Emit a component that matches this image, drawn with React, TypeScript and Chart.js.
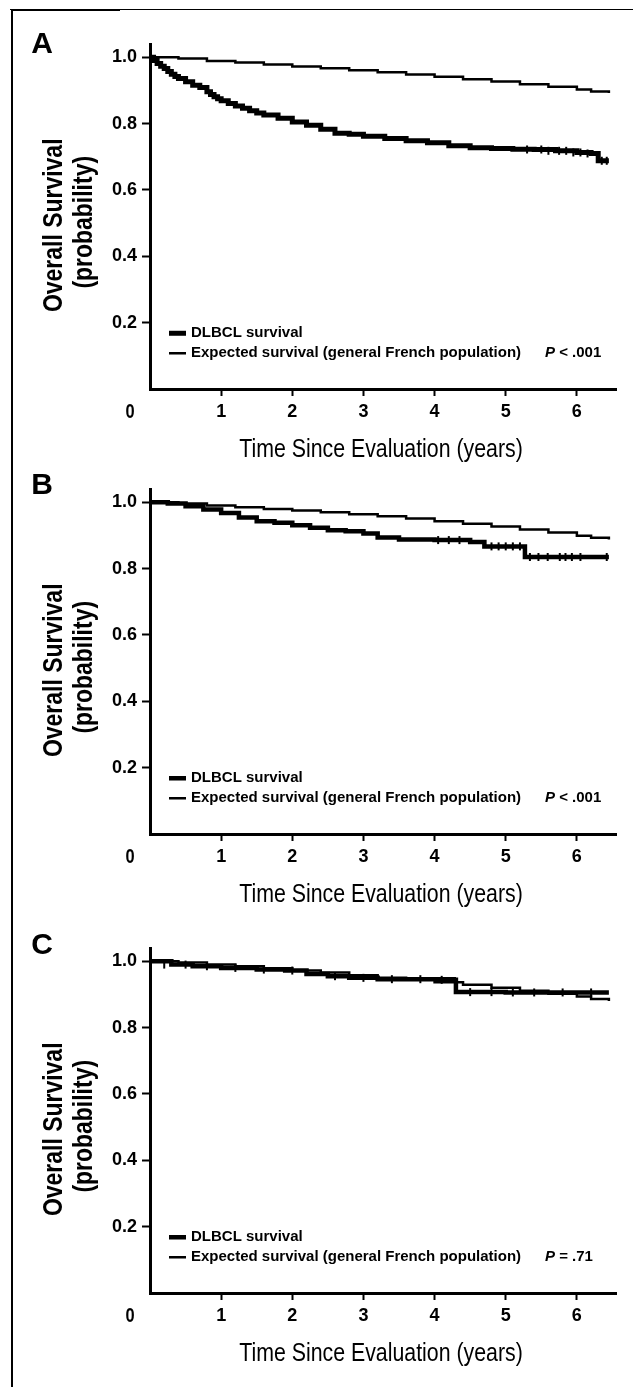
import React, { useEffect, useRef } from 'react';
import { Chart, registerables } from 'chart.js';

Chart.register(...registerables);

const SANS = "'Liberation Sans', Arial, Helvetica, sans-serif";
const SQUEEZE = 0.82; // horizontal compression to mimic a condensed face

// ---------- shared axis data ----------
const xTickValues = [0, 1, 2, 3, 4, 5, 6];
const yTickValues = [0.2, 0.4, 0.6, 0.8, 1.0];
const xMax = 6.55;
const yMax = 1.04;

const legendLabels = ['DLBCL survival', 'Expected survival (general French population)'];
const yTitle = ['Overall Survival', '(probability)'];
const xTitle = 'Time Since Evaluation (years)';

// ---------- panel A ----------
const expA_t = [0, 0.4, 0.8, 1.2, 1.6, 2.0, 2.4, 2.8, 3.2, 3.6, 4.0, 4.4, 4.8, 5.2, 5.6, 6.0, 6.2, 6.45];
const expA_v = [1.0, 0.996, 0.989, 0.984, 0.978, 0.972, 0.967, 0.961, 0.955, 0.948, 0.941, 0.934, 0.927, 0.919, 0.911, 0.903, 0.897, 0.892];
const dlbA_t = [0, 0.05, 0.1, 0.15, 0.2, 0.25, 0.3, 0.35, 0.4, 0.5, 0.6, 0.7, 0.8, 0.85, 0.9, 0.95, 1.0, 1.1, 1.2, 1.3, 1.4, 1.5, 1.6, 1.8, 2.0, 2.2, 2.4, 2.6, 2.8, 3.0, 3.3, 3.6, 3.9, 4.2, 4.5, 4.8, 5.1, 5.4, 5.7, 6.0, 6.2, 6.3, 6.45];
const dlbA_v = [1.0, 0.99, 0.981, 0.973, 0.966, 0.957, 0.949, 0.942, 0.936, 0.926, 0.916, 0.909, 0.896, 0.888, 0.881, 0.875, 0.869, 0.861, 0.853, 0.846, 0.839, 0.832, 0.826, 0.816, 0.805, 0.795, 0.783, 0.771, 0.768, 0.762, 0.755, 0.748, 0.742, 0.733, 0.727, 0.725, 0.723, 0.722, 0.718, 0.713, 0.71, 0.688, 0.688];
const cenA_t = [5.3, 5.5, 5.6, 5.75, 5.85, 5.95, 6.05, 6.15, 6.35, 6.42];
const cenA_v = [0.722, 0.722, 0.718, 0.718, 0.718, 0.713, 0.713, 0.71, 0.688, 0.688];

// ---------- panel B ----------
const expB_t = [0, 0.4, 0.8, 1.2, 1.6, 2.0, 2.4, 2.8, 3.2, 3.6, 4.0, 4.4, 4.8, 5.2, 5.6, 6.0, 6.2, 6.45];
const expB_v = [1.0, 0.996, 0.99, 0.985, 0.98, 0.975, 0.97, 0.964, 0.958, 0.951, 0.943, 0.935, 0.927, 0.918, 0.909, 0.899, 0.893, 0.888];
const dlbB_t = [0, 0.25, 0.5, 0.75, 1.0, 1.25, 1.5, 1.75, 2.0, 2.25, 2.5, 2.75, 3.0, 3.2, 3.5, 4.0, 4.5, 4.7, 5.27, 6.45];
const dlbB_v = [1.0, 0.996, 0.988, 0.978, 0.968, 0.954, 0.943, 0.938, 0.931, 0.923, 0.916, 0.913, 0.906, 0.894, 0.888, 0.886, 0.88, 0.867, 0.835, 0.835];
const cenB_t = [4.05, 4.2, 4.35, 4.8, 4.9, 5.0, 5.1, 5.2, 5.34, 5.46, 5.59, 5.76, 5.84, 5.93, 6.05, 6.42];
const cenB_v = [0.886, 0.886, 0.886, 0.867, 0.867, 0.867, 0.867, 0.867, 0.835, 0.835, 0.835, 0.835, 0.835, 0.835, 0.835, 0.835];

// ---------- panel C ----------
const expC_t = [0, 0.4, 0.8, 1.2, 1.6, 2.0, 2.4, 2.8, 3.2, 3.6, 4.0, 4.4, 4.8, 5.2, 5.6, 6.0, 6.2, 6.45];
const expC_v = [1.0, 0.996, 0.99, 0.985, 0.979, 0.972, 0.966, 0.958, 0.95, 0.944, 0.937, 0.929, 0.92, 0.911, 0.902, 0.894, 0.886, 0.88];
const dlbC_t = [0, 0.3, 0.6, 1.0, 1.5, 1.9, 2.2, 2.5, 2.8, 3.2, 4.27, 4.3, 5.0, 6.45];
const dlbC_v = [1.0, 0.99, 0.985, 0.98, 0.975, 0.972, 0.962, 0.955, 0.95, 0.946, 0.944, 0.907, 0.906, 0.906];
const cenC_t = [0.2, 0.5, 0.8, 1.2, 1.6, 2.0, 2.6, 3.0, 3.4, 3.8, 4.1, 4.5, 4.8, 5.1, 5.4, 5.8, 6.2];
const cenC_v = [0.99, 0.99, 0.985, 0.98, 0.975, 0.972, 0.955, 0.95, 0.946, 0.946, 0.944, 0.907, 0.907, 0.906, 0.906, 0.906, 0.906];

type PanelDef = {
  letter: string;
  top: number;
  letterDy: number;
  dlbWidth: number;
  pLabel: string;
  pRest: string;
  exp_t: number[]; exp_v: number[];
  dlb_t: number[]; dlb_v: number[];
  cen_t: number[]; cen_v: number[];
};

const panels: PanelDef[] = [
  { letter: 'A', top: 0, letterDy: -13, dlbWidth: 5, pLabel: 'P', pRest: ' < .001', exp_t: expA_t, exp_v: expA_v, dlb_t: dlbA_t, dlb_v: dlbA_v, cen_t: cenA_t, cen_v: cenA_v },
  { letter: 'B', top: 445, letterDy: -17, dlbWidth: 4.5, pLabel: 'P', pRest: ' < .001', exp_t: expB_t, exp_v: expB_v, dlb_t: dlbB_t, dlb_v: dlbB_v, cen_t: cenB_t, cen_v: cenB_v },
  { letter: 'C', top: 904, letterDy: -16, dlbWidth: 4.5, pLabel: 'P', pRest: ' = .71', exp_t: expC_t, exp_v: expC_v, dlb_t: dlbC_t, dlb_v: dlbC_v, cen_t: cenC_t, cen_v: cenC_v },
];

const CANVAS_W = 633;
const CANVAS_H = 470;

const pts = (t: number[], v: number[]) => t.map((x, i) => ({ x, y: v[i] }));

function squeezedText(ctx: any, text: string, x: number, y: number, rot: number, font: string) {
  ctx.save();
  ctx.translate(x, y);
  if (rot) ctx.rotate(rot);
  ctx.scale(SQUEEZE, 1);
  ctx.font = font;
  ctx.textAlign = 'center';
  ctx.textBaseline = 'middle';
  ctx.fillText(text, 0, 0);
  ctx.restore();
}

const annotPlugin = {
  id: 'annot',
  afterDraw(chart: any, _args: any, opts: any) {
    const p: PanelDef = opts.panel;
    const ctx = chart.ctx;
    const xs = chart.scales.x;
    const ys = chart.scales.y;
    const y1 = ys.getPixelForValue(1);
    const x0 = xs.getPixelForValue(0);
    ctx.save();
    ctx.fillStyle = '#000';
    ctx.strokeStyle = '#000';
    ctx.textBaseline = 'middle';

    // panel letter
    ctx.font = `bold 30px ${SANS}`;
    ctx.textAlign = 'center';
    ctx.fillText(p.letter, 42, y1 + p.letterDy);

    // origin "0" label
    squeezedText(ctx, '0', x0 - 20, ys.getPixelForValue(0) + 23, 0, `bold 20px ${SANS}`);

    // y axis title (two lines, rotated)
    const yc = y1 + 168;
    squeezedText(ctx, yTitle[0], 54, yc, -Math.PI / 2, `bold 28px ${SANS}`);
    squeezedText(ctx, yTitle[1], 84, yc - 3, -Math.PI / 2, `bold 28px ${SANS}`);

    // x axis title
    squeezedText(ctx, xTitle, (xs.left + xs.right) / 2 - 2, ys.getPixelForValue(0) + 61, 0, `26px ${SANS}`);

    // legend
    const ds = chart.data.datasets;
    const rows = [
      { y: y1 + 276, label: legendLabels[0], w: ds[1].borderWidth },
      { y: y1 + 296, label: legendLabels[1], w: ds[0].borderWidth },
    ];
    ctx.textAlign = 'left';
    ctx.textBaseline = 'middle';
    rows.forEach((r) => {
      ctx.lineWidth = r.w;
      ctx.beginPath();
      ctx.moveTo(x0 + 19, r.y);
      ctx.lineTo(x0 + 36, r.y);
      ctx.stroke();
      ctx.font = `bold 15px ${SANS}`;
      ctx.fillText(r.label, x0 + 41, r.y);
    });
    const px = 545;
    ctx.font = `italic bold 15px ${SANS}`;
    ctx.fillText(p.pLabel, px, rows[1].y);
    const pw = ctx.measureText(p.pLabel).width;
    ctx.font = `bold 15px ${SANS}`;
    ctx.fillText(p.pRest, px + pw, rows[1].y);
    ctx.restore();
  },
};

function Panel({ def }: { def: PanelDef }) {
  const ref = useRef<HTMLCanvasElement | null>(null);
  useEffect(() => {
    if (!ref.current) return;
    const hideZero = (c: any) => (c.tick && c.tick.value === 0 ? 'rgba(0,0,0,0)' : '#000');
    const chart = new Chart(ref.current, {
      type: 'line',
      data: {
        datasets: [
          {
            label: legendLabels[1],
            data: pts(def.exp_t, def.exp_v),
            borderColor: '#000',
            borderWidth: 2.5,
            stepped: true,
            pointRadius: 0,
            fill: false,
          },
          {
            label: legendLabels[0],
            data: pts(def.dlb_t, def.dlb_v),
            borderColor: '#000',
            borderWidth: def.dlbWidth,
            stepped: true,
            pointRadius: 0,
            fill: false,
          },
          {
            label: 'censored',
            data: pts(def.cen_t, def.cen_v),
            showLine: false,
            borderColor: '#000',
            backgroundColor: '#000',
            pointStyle: 'line',
            rotation: 90,
            pointRadius: 4,
            pointBorderWidth: 2,
            borderWidth: 2,
          },
        ],
      },
      options: {
        responsive: false,
        animation: false,
        events: [],
        layout: { padding: { top: 44, right: 17, left: 0, bottom: 0 } },
        plugins: {
          legend: { display: false },
          tooltip: { enabled: false },
          annot: { panel: def },
        } as any,
        scales: {
          x: {
            type: 'linear',
            min: 0,
            max: xMax,
            afterFit: (s: any) => { s.height = CANVAS_H - 389; },
            afterBuildTicks: (s: any) => { s.ticks = xTickValues.map((v) => ({ value: v })); },
            border: { display: true, color: '#000', width: 3 },
            grid: { display: true, drawOnChartArea: false, drawTicks: true, tickLength: 7, tickWidth: 2, tickColor: hideZero, color: hideZero },
            ticks: {
              color: '#000',
              padding: 5,
              maxRotation: 0,
              font: { family: SANS, size: 18, weight: 'bold' },
              callback: (v: any) => (v === 0 ? '' : String(v)),
            },
            title: { display: false, text: xTitle },
          },
          y: {
            type: 'linear',
            min: 0,
            max: yMax,
            afterFit: (s: any) => { s.width = 150; },
            afterBuildTicks: (s: any) => { s.ticks = [0, ...yTickValues].map((v) => ({ value: v })); },
            border: { display: true, color: '#000', width: 3 },
            grid: { display: true, drawOnChartArea: false, drawTicks: true, tickLength: 8, tickWidth: 2, tickColor: hideZero, color: hideZero },
            ticks: {
              color: '#000',
              padding: 5,
              font: { family: SANS, size: 18, weight: 'bold' },
              callback: (v: any) => (v === 0 ? '' : Number(v).toFixed(1)),
            },
            title: { display: false, text: yTitle },
          },
        },
      } as any,
      plugins: [annotPlugin],
    });
    return () => chart.destroy();
  }, [def]);
  return (
    <canvas
      ref={ref}
      width={CANVAS_W}
      height={CANVAS_H}
      style={{ position: 'absolute', left: 0, top: def.top, width: CANVAS_W, height: CANVAS_H }}
    />
  );
}

export default function App() {
  return (
    <div style={{ position: 'absolute', left: 0, top: 0, width: 633, height: 1387, background: '#fff', overflow: 'hidden' }}>
      <div style={{ position: 'absolute', left: 10, top: 9, width: 623, height: 1, background: '#000' }} />
      <div style={{ position: 'absolute', left: 12, top: 9, width: 108, height: 2, background: '#000' }} />
      <div style={{ position: 'absolute', left: 11, top: 9, width: 2, height: 1378, background: '#000' }} />
      {panels.map((p) => (
        <Panel key={p.letter} def={p} />
      ))}
    </div>
  );
}
